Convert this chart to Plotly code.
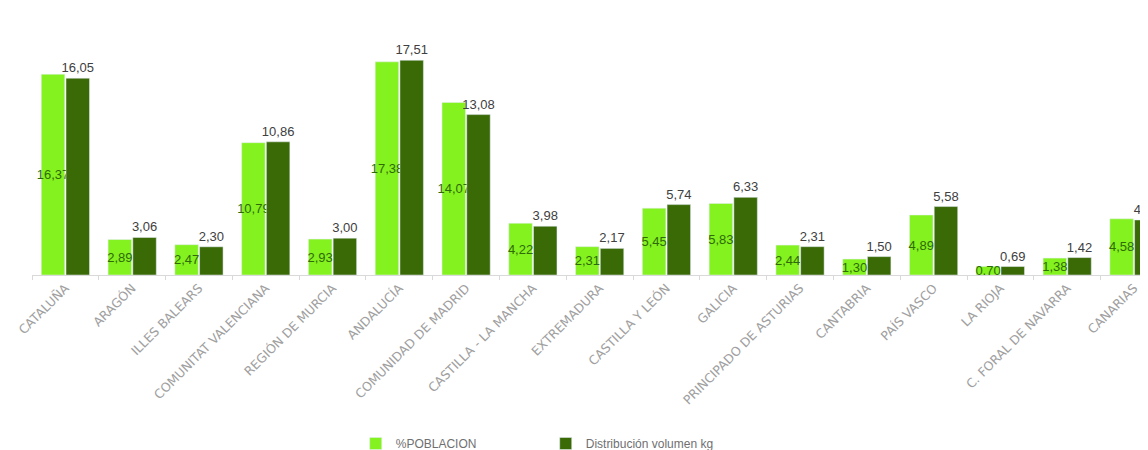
import plotly.graph_objects as go

# regions and values
regiones = ['CATALUÑA', 'ARAGÓN', 'ILLES BALEARS', 'COMUNITAT VALENCIANA', 'REGIÓN DE MURCIA',
            'ANDALUCÍA', 'COMUNIDAD DE MADRID', 'CASTILLA - LA MANCHA', 'EXTREMADURA',
            'CASTILLA Y LEÓN', 'GALICIA', 'PRINCIPADO DE ASTURIAS', 'CANTABRIA', 'PAÍS VASCO',
            'LA RIOJA', 'C. FORAL DE NAVARRA', 'CANARIAS']
poblacion = [16.37, 2.89, 2.47, 10.79, 2.93, 17.38, 14.07, 4.22, 2.31, 5.45, 5.83, 2.44, 1.30, 4.89, 0.70, 1.38, 4.58]
volumen = [16.05, 3.06, 2.30, 10.86, 3.00, 17.51, 13.08, 3.98, 2.17, 5.74, 6.33, 2.31, 1.50, 5.58, 0.69, 1.42, 4.49]

fmt = lambda v: f'{v:.2f}'.replace('.', ',')

fig = go.Figure()
fig.add_trace(go.Bar(x=regiones, y=poblacion, name='%POBLACION', marker_color='#84F21E',
                     text=[fmt(v) for v in poblacion], textposition='inside', insidetextanchor='middle',
                     constraintext='none', textangle=0,
                     insidetextfont=dict(color='#2E6A08', size=13, family='Liberation Sans')))
fig.add_trace(go.Bar(x=regiones, y=volumen, name='Distribución volumen kg', marker_color='#3A6A06',
                     text=[fmt(v) for v in volumen], textposition='outside', constraintext='none',
                     textangle=0, cliponaxis=False,
                     outsidetextfont=dict(color='#404040', size=13, family='Liberation Sans')))

fig.update_layout(width=1148, height=450, plot_bgcolor='white', paper_bgcolor='white',
                  margin=dict(l=24, r=0, t=34, b=182),
                  barmode='group', bargap=0.26, bargroupgap=0.05,
                  font=dict(family='Liberation Sans', color='#808080'),
                  legend=dict(orientation='h', x=0.288, xanchor='left', y=-0.66, yanchor='top',
                              font=dict(size=12, color='#707070'), entrywidth=145,
                              traceorder='normal'),
                  showlegend=True)
fig.update_xaxes(range=[-0.5, 16.33], tickangle=-45, automargin=False,
                 tickfont=dict(size=12.5, color='#a0a0a0', family='DejaVu Sans'),
                 showline=True, linecolor='#d9d9d9', ticks='outside', ticklen=4, tickcolor='#d9d9d9',
                 tickson='boundaries')
fig.update_yaxes(range=[0, 19], visible=False)
fig.write_html('out.html')
